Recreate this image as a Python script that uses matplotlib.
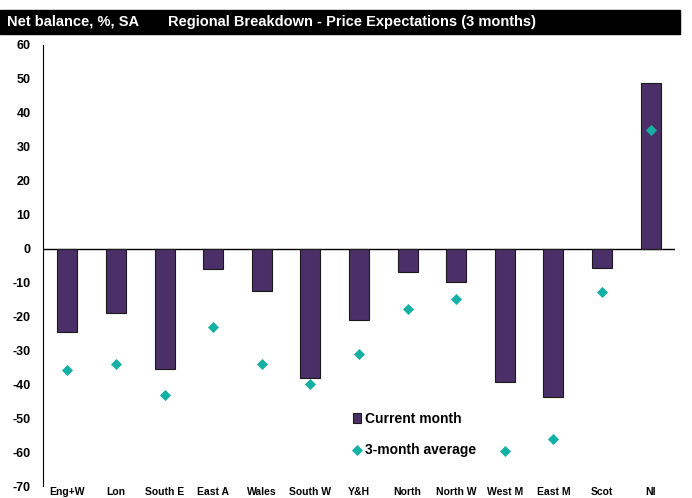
import matplotlib
matplotlib.use("Agg")
import matplotlib.pyplot as plt
from matplotlib.patches import Rectangle
import numpy as np

regions = ["Eng+W", "Lon", "South E", "East A", "Wales", "South W", "Y&H",
           "North", "North W", "West M", "East M", "Scot", "NI"]
current_month = [-24.6, -19.0, -35.5, -6.1, -12.6, -38.3, -21.2,
                 -6.9, -10.0, -39.3, -43.7, -5.7, 48.9]
three_month_avg = [-35.8, -33.9, -43.3, -23.1, -33.9, -40.0, -31.1,
                   -17.8, -15.0, -59.6, -56.0, -12.8, 34.9]
yticks = list(range(-70, 61, 10))

FONT = ["Liberation Sans Narrow", "Liberation Sans", "DejaVu Sans"]
plt.rcParams["font.family"] = FONT
plt.rcParams["font.weight"] = "bold"

W, H = 692, 498
fig = plt.figure(figsize=(W / 100, H / 100), dpi=100)
ax = fig.add_axes([43 / W, 1 - 486 / H, (675 - 43) / W, (486 - 45) / H])

x = np.arange(len(regions))
bars = ax.bar(x, current_month, width=0.41, color="#4b2f68", edgecolor="#1a1a1a",
              linewidth=0.8, label="Current month", zorder=2)
dots = ax.scatter(x, three_month_avg, marker="D", s=32, color="#14b0a4",
                  label="3-month average", zorder=3, linewidths=0)
ax.axhline(0, color="black", linewidth=1, zorder=1)

ax.set_xlim(-0.5, len(regions) - 0.5)
ax.set_ylim(-70, 60)
ax.set_yticks(yticks)
ax.set_yticklabels([str(t) for t in yticks], fontsize=9, fontweight="bold")
ax.tick_params(axis="y", length=0, pad=9)
ax.set_xticks(x)
ax.set_xticklabels(regions, fontsize=7.5, fontweight="bold")
ax.tick_params(axis="x", length=0, pad=0.5)
for s in ["top", "right", "bottom"]:
    ax.spines[s].set_visible(False)
ax.spines["left"].set_linewidth(0.8)

leg = ax.legend([bars, dots], ["Current month", "3-month average"],
                loc="upper left", bbox_to_anchor=(347 / W, 1 - 406 / H),
                bbox_transform=fig.transFigure, frameon=False,
                prop={"size": 10, "weight": "bold"}, handlelength=0.6,
                handletextpad=0.3, labelspacing=1.25, borderaxespad=0)

# header bar
fig.patches.append(Rectangle((0, 1 - 34 / H), 680 / W, 24 / H,
                             transform=fig.transFigure, color="black"))
fig.text(7 / W, 1 - 22 / H, "Net balance, %, SA", color="white",
         fontsize=10.5, fontweight="bold", va="center", ha="left")
fig.text(168 / W, 1 - 22 / H, "Regional Breakdown - Price Expectations (3 months)",
         color="white", fontsize=10.5, fontweight="bold", va="center", ha="left")

fig.savefig("out.png", dpi=100)
